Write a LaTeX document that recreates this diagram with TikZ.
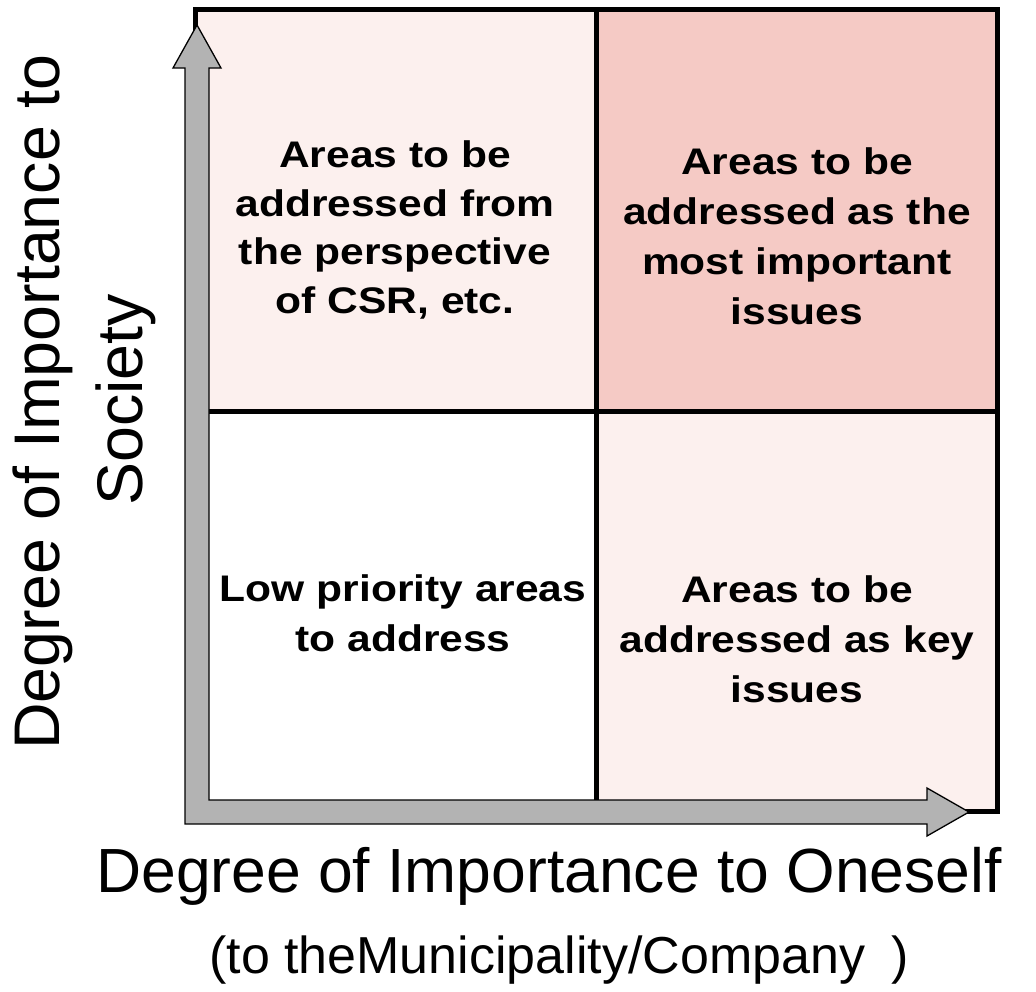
\documentclass[tikz,border=0pt]{standalone}
\usepackage{fontspec}
\setmainfont{Liberation Sans}
\newfontfamily\cellfont[FakeStretch=1.15]{Liberation Sans Bold}
\definecolor{lightpink}{RGB}{252,240,238}
\definecolor{midpink}{RGB}{245,202,197}
\definecolor{arrowgray}{RGB}{179,179,179}
\begin{document}
\begin{tikzpicture}[x=1pt,y=-1pt,
  cell/.style={align=center,font=\cellfont\fontsize{37}{50}\selectfont,text=black},
  axislabel/.style={align=center,font=\fontsize{62.4}{74}\selectfont,text=black},
  vlabel/.style={align=center,font=\fontsize{64.5}{74}\selectfont,text=black,rotate=90},
  grid line/.style={line width=5pt,line cap=rect}]
\useasboundingbox (0,0) rectangle (1036,991);
% quadrant fills
\fill[lightpink] (195,9) rectangle (596,411);
\fill[midpink] (596,9) rectangle (997,411);
\fill[white] (195,411) rectangle (596,811);
\fill[lightpink] (596,411) rectangle (997,811);
% grid
\draw[grid line] (195,9) rectangle (997,811);
\draw[grid line] (596,9) -- (596,811);
\draw[grid line] (195,411) -- (997,411);
% L-shaped axis arrows
\draw[fill=arrowgray,draw=black,line width=1.3pt,line join=miter]
  (185,824) -- (185,68) -- (173,68) -- (197,25) -- (221,68) -- (209,68)
  -- (209,800) -- (927,800) -- (927,788) -- (969,812) -- (927,836) -- (927,824) -- cycle;
% quadrant texts
\node[cell,font=\cellfont\fontsize{37}{48.5}\selectfont] (tl) at (395,230) {Areas to be\\addressed from\\the perspective\\of CSR, etc.};
\node[cell] (tr) at (797,236) {Areas to be\\addressed as the\\most important\\issues};
\node[cell] (bl) at (403,613) {Low priority areas\\to address};
\node[cell] (br) at (797,639) {Areas to be\\addressed as key\\issues};
% axis labels
\node[vlabel] (ylab1) at (43,402) {Degree of Importance to};
\node[vlabel] (ylab2) at (126,400) {Society};
\node[axislabel] (xlab1) at (549,876) {Degree of Importance to Oneself};
\node[font=\fontsize{52}{60}\selectfont] (xlab2) at (559,960) {(to theMunicipality/Company\hspace{0.5em})};
\end{tikzpicture}
\end{document}
